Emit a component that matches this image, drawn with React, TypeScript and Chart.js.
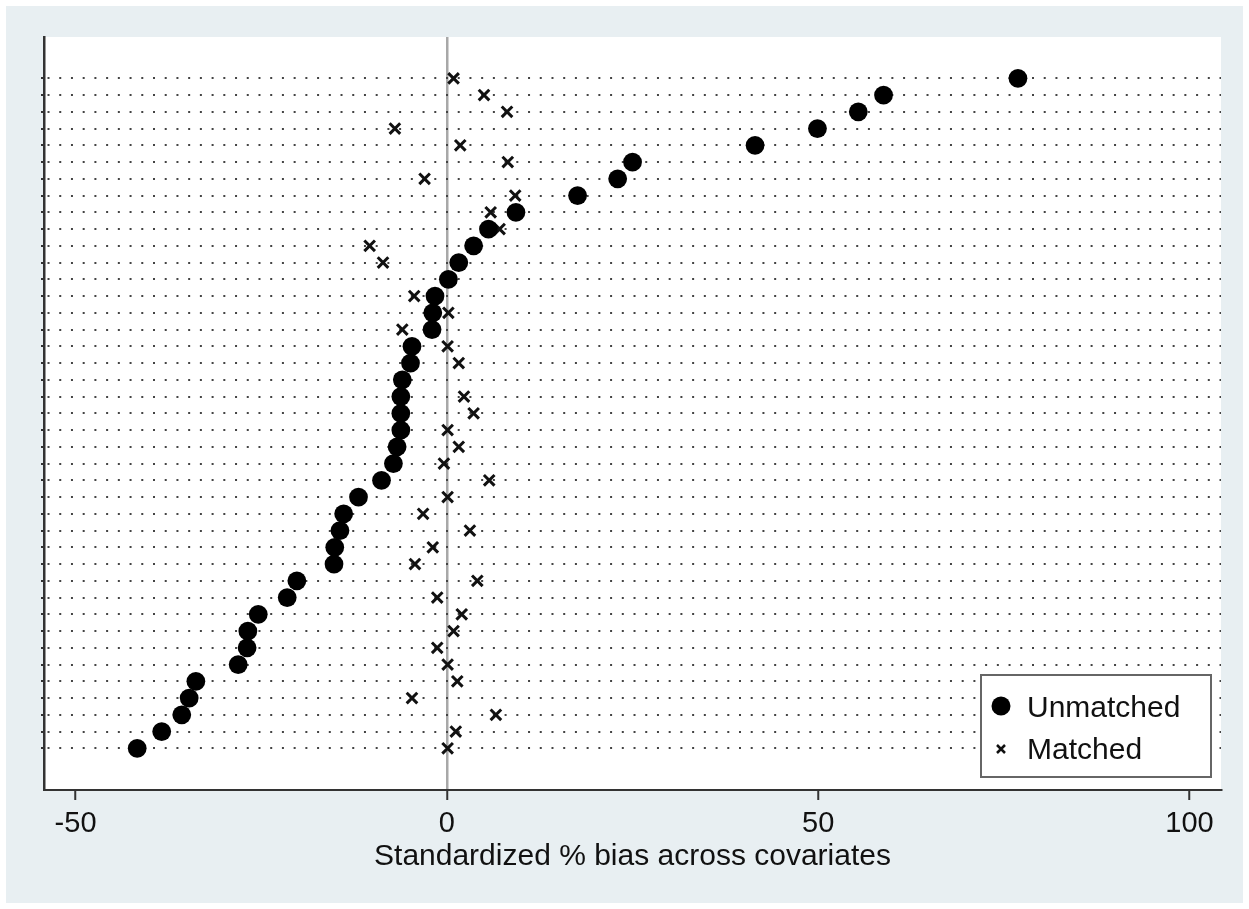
import React, { useEffect, useRef } from "react";
import { Chart, registerables } from "chart.js";

Chart.register(...registerables);

// Standardized % bias per covariate, rows listed top to bottom
const unmatchedBias: number[] = [
  76.9, 58.8, 55.4, 49.9, 41.5, 25.0, 23.0, 17.6, 9.3, 5.6, 3.6, 1.6, 0.2,
  -1.6, -1.9, -2.0, -4.7, -4.9, -6.0, -6.2, -6.2, -6.2, -6.7, -7.2, -8.8,
  -11.9, -13.9, -14.4, -15.1, -15.2, -20.2, -21.5, -25.4, -26.8, -26.9,
  -28.1, -33.8, -34.7, -35.7, -38.4, -41.7,
];
const matchedBias: number[] = [
  0.9, 5.0, 8.1, -7.0, 1.8, 8.2, -3.0, 9.2, 5.9, 7.1, -10.4, -8.6, 0.5,
  -4.4, 0.2, -6.0, 0.1, 1.6, -6.3, 2.3, 3.6, 0.1, 1.6, -0.4, 5.7, 0.1, -3.2,
  3.1, -1.9, -4.3, 4.1, -1.3, 2.0, 0.9, -1.3, 0.1, 1.4, -4.7, 6.6, 1.2, 0.1,
];
const seriesLabels: string[] = ["Unmatched", "Matched"];
const xTickValues: number[] = [-50, 0, 50, 100];
const xTitle = "Standardized % bias across covariates";

const W = 1249;
const H = 909;
const FONT = "'Liberation Sans', Arial, Helvetica, sans-serif";

export default function App() {
  const ref = useRef<HTMLCanvasElement | null>(null);

  useEffect(() => {
    const canvas = ref.current;
    if (!canvas) return;
    const n = unmatchedBias.length;
    const rowPos = unmatchedBias.map((_, i) => n - i);

    const bgPlugin = {
      id: "bg",
      beforeDraw(chart: any) {
        const { ctx, chartArea } = chart;
        ctx.save();
        ctx.fillStyle = "#ffffff";
        ctx.fillRect(0, 0, W, H);
        ctx.fillStyle = "#e8eff2";
        ctx.fillRect(6, 6, W - 12, H - 12);
        ctx.fillStyle = "#ffffff";
        ctx.fillRect(
          chartArea.left,
          chartArea.top,
          chartArea.right - chartArea.left,
          chartArea.bottom - chartArea.top
        );
        ctx.restore();
      },
    };

    const legendPlugin = {
      id: "innerLegend",
      afterDraw(chart: any) {
        const { ctx } = chart;
        const ds = chart.data.datasets;
        const bx = 981, by = 675, bw = 230, bh = 102;
        ctx.save();
        ctx.fillStyle = "#ffffff";
        ctx.fillRect(bx, by, bw, bh);
        ctx.strokeStyle = "#666666";
        ctx.lineWidth = 2;
        ctx.strokeRect(bx, by, bw, bh);
        // circle marker
        ctx.fillStyle = "#000000";
        ctx.beginPath();
        ctx.arc(1001, 706, 9.5, 0, Math.PI * 2);
        ctx.fill();
        // x marker
        ctx.strokeStyle = "#111111";
        ctx.lineWidth = 2.5;
        ctx.beginPath();
        ctx.moveTo(997, 745);
        ctx.lineTo(1005, 753);
        ctx.moveTo(1005, 745);
        ctx.lineTo(997, 753);
        ctx.stroke();
        ctx.fillStyle = "#111111";
        ctx.font = `30px ${FONT}`;
        ctx.textBaseline = "middle";
        ctx.textAlign = "left";
        ctx.fillText(ds[0].label, 1027, 709);
        ctx.fillText(ds[1].label, 1027, 751);
        ctx.restore();
      },
    };

    const chart = new Chart(canvas, {
      type: "scatter",
      data: {
        datasets: [
          {
            label: seriesLabels[0],
            data: unmatchedBias.map((v, i) => ({ x: v, y: rowPos[i] })),
            pointStyle: "circle",
            pointRadius: 9.4,
            backgroundColor: "#000000",
            borderColor: "#000000",
            borderWidth: 0,
          },
          {
            label: seriesLabels[1],
            data: matchedBias.map((v, i) => ({ x: v, y: rowPos[i] })),
            pointStyle: "crossRot",
            pointRadius: 7.5,
            borderColor: "#111111",
            backgroundColor: "#111111",
            borderWidth: 3,
          },
        ],
      },
      options: {
        responsive: false,
        animation: false,
        events: [],
        layout: { padding: { top: 37, right: 28, left: 0, bottom: 0 } },
        plugins: {
          legend: { display: false },
          tooltip: { enabled: false },
        },
        scales: {
          x: {
            type: "linear",
            min: -54.25,
            max: 104.24,
            afterBuildTicks: (scale: any) => {
              scale.ticks = xTickValues.map((v) => ({ value: v }));
            },
            afterFit: (scale: any) => {
              scale.height = H - 790;
            },
            grid: {
              color: (c: any) =>
                c.tick && c.tick.value === 0 ? "#a8a8a8" : "rgba(0,0,0,0)",
              lineWidth: 2.5,
              tickColor: "#333333",
              tickWidth: 2,
              tickLength: 10,
              drawOnChartArea: true,
            },
            border: { display: true, color: "#333333", width: 2 },
            ticks: {
              color: "#111111",
              font: { family: FONT, size: 29 },
              padding: 7,
              maxRotation: 0,
            },
            title: {
              display: true,
              text: xTitle,
              color: "#111111",
              font: { family: FONT, size: 30 },
              padding: { top: 0, bottom: 34 },
            },
          },
          y: {
            type: "linear",
            min: -1.49,
            max: 43.47,
            afterBuildTicks: (scale: any) => {
              scale.ticks = rowPos.map((v) => ({ value: v }));
            },
            afterFit: (scale: any) => {
              scale.width = 44;
            },
            ticks: { display: false },
            grid: {
              color: "#444444",
              lineWidth: 2,
              tickColor: "#333333",
              tickWidth: 2,
              tickLength: 3,
              tickBorderDash: [],
            },
            border: {
              display: true,
              color: "#333333",
              width: 2.5,
              dash: [2, 9.72],
              dashOffset: 9.7,
            },
          },
        },
      },
      plugins: [bgPlugin, legendPlugin],
    });

    return () => chart.destroy();
  }, []);

  return (
    <div style={{ position: "fixed", left: 0, top: 0, width: W, height: H }}>
      <canvas ref={ref} width={W} height={H} style={{ display: "block" }} />
    </div>
  );
}
